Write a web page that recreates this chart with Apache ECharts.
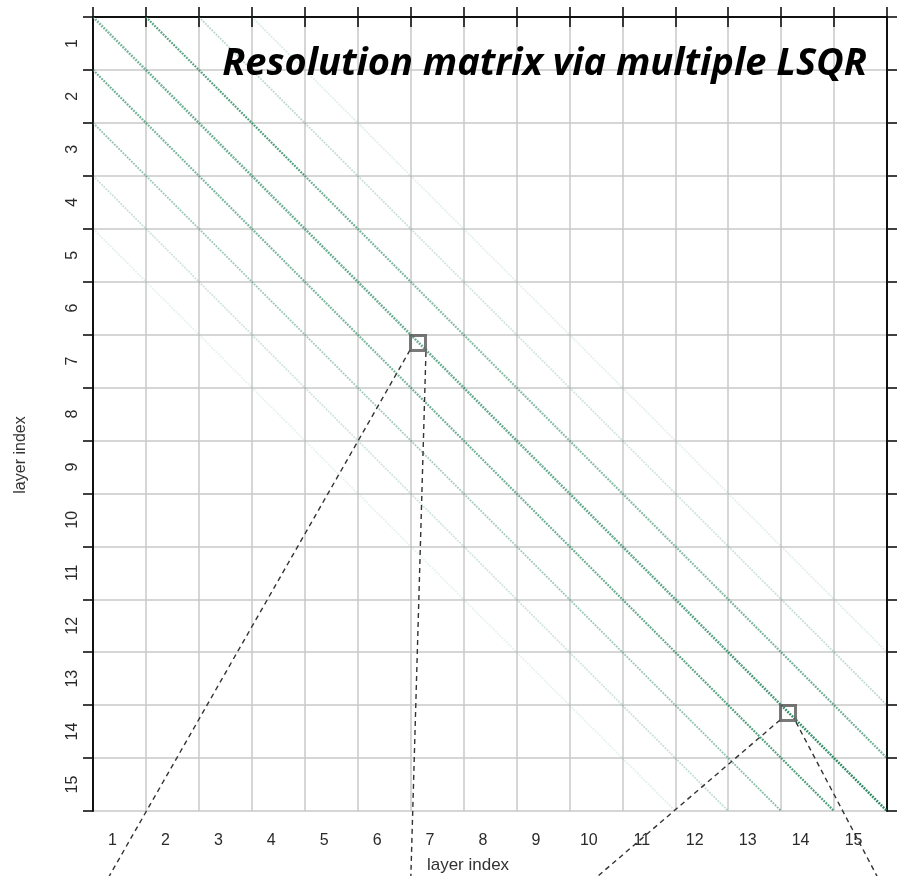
<!DOCTYPE html>
<html><head><meta charset="utf-8">
<script src="https://cdn.jsdelivr.net/npm/echarts@6/dist/echarts.min.js"></script>
<style>html,body{margin:0;padding:0;background:#fff}#c{width:907px;height:876px}</style>
</head><body><div id="c"></div>
<script>
// ---- data ----
const layers = ['1','2','3','4','5','6','7','8','9','10','11','12','13','14','15'];
const axisTitleX = 'layer index';
const axisTitleY = 'layer index';
const chartTitle = 'Resolution matrix via multiple LSQR';
// band offset = column layer - row layer
const bandOffsets = [0, 1, 2, 3, -1, -2, -3, -4];
// strength of each band, one value per layer segment along the band
const bandStrengths = [
  [0.6,0.65,0.65,0.65,0.68,0.68,0.68,0.7,0.68,0.7,0.72,0.75,0.82,0.9,0.95],
  [0.75,0.78,0.8,0.65,0.6,0.55,0.55,0.55,0.55,0.55,0.55,0.6,0.65,0.65],
  [0.32,0.3,0.28,0.25,0.22,0.22,0.22,0.22,0.22,0.22,0.24,0.27,0.3],
  [0.16,0.14,0.14,0.12,0.12,0.12,0.12,0.12,0.12,0.12,0.14,0.14],
  [0.65,0.6,0.6,0.6,0.6,0.6,0.65,0.65,0.65,0.68,0.7,0.75,0.78,0.8],
  [0.5,0.45,0.45,0.45,0.42,0.42,0.42,0.42,0.45,0.45,0.47,0.5,0.55],
  [0.25,0.22,0.22,0.22,0.22,0.22,0.22,0.22,0.22,0.22,0.25,0.28],
  [0.13,0.11,0.11,0.11,0.11,0.11,0.11,0.11,0.11,0.11,0.13]
];
const zoomBoxes = [[6.14,6.16],[13.13,13.15]];
const calloutStarts = [[5.99,6.29],[6.29,6.33],[12.98,13.28],[13.28,13.32]];
const calloutEnds   = [[0.21,16.4],[6.0,16.4],[9.34,16.4],[14.9,16.4]];

// ---- build ----
const bandLines = [];
bandOffsets.forEach((k, bi) => {
  const n = layers.length;
  const start = Math.max(0, k);
  const end = Math.min(n, n + k);
  for (let c = start, s = 0; c < end; c++, s++) {
    const a = bandStrengths[bi][s] != null ? bandStrengths[bi][s] : 0.1;
    bandLines.push({
      coords: [[c, c - k], [c + 1, c + 1 - k]],
      lineStyle: { opacity: a, width: k === 0 ? 2.6 : (Math.abs(k) === 1 ? 2.2 : 1.8) }
    });
  }
});

const tickStyle = { show: true, inside: false, length: 10, lineStyle: { color: '#111', width: 1.6 } };
const labelFont = { fontFamily: 'Liberation Sans, Arial, sans-serif', fontSize: 16, color: '#2a2a2a' };

const series = [
  {
    type: 'lines', coordinateSystem: 'cartesian2d', xAxisIndex: 2, yAxisIndex: 2,
    polyline: false, silent: true, z: 3,
    lineStyle: { color: '#22845a', type: [1.8, 1.2], cap: 'butt' },
    data: bandLines
  },
  {
    type: 'scatter', xAxisIndex: 2, yAxisIndex: 2, z: 6, silent: true,
    symbol: 'rect', symbolSize: 15,
    itemStyle: { color: 'rgba(255,255,255,0)', borderColor: '#585858', borderWidth: 3 },
    data: zoomBoxes
  }
];
calloutStarts.forEach((s, i) => {
  series.push({
    type: 'line', xAxisIndex: 2, yAxisIndex: 2, z: 5, clip: false, silent: true,
    showSymbol: false, symbol: 'none',
    lineStyle: { color: '#333', width: 1.4, type: [5, 4] },
    data: [s, calloutEnds[i]]
  });
});

const chart = echarts.init(document.getElementById('c'), null, { renderer: 'canvas' });
chart.setOption({
  animation: false,
  backgroundColor: '#ffffff',
  title: {
    text: chartTitle, right: 35, top: 40,
    textStyle: { fontFamily: 'Open Sans, Lato, sans-serif', fontStyle: 'italic', fontWeight: 'bold', fontSize: 38, color: '#000' }
  },
  grid: { left: 93, top: 17, width: 794, height: 794, containLabel: false, outerBoundsMode: 'none' },
  xAxis: [
    {
      type: 'category', data: layers, position: 'bottom', boundaryGap: true,
      axisLine: { show: true, lineStyle: { color: '#111', width: 2 } },
      axisTick: Object.assign({ interval: 0 }, tickStyle),
      axisLabel: Object.assign({ interval: 0, margin: 22, padding: [0, 14, 0, 0] }, labelFont),
      splitLine: { show: true, interval: 0, lineStyle: { color: '#c9c9c9', width: 1.5 } },
      name: axisTitleX, nameLocation: 'middle', nameGap: 46,
      nameTextStyle: { fontFamily: 'Liberation Sans, Arial, sans-serif', fontSize: 17, color: '#333', padding: [0, 44, 0, 0] }
    },
    {
      type: 'category', data: layers, position: 'top', boundaryGap: true,
      axisLine: { show: true, lineStyle: { color: '#111', width: 2 } },
      axisTick: Object.assign({ interval: 0 }, tickStyle),
      axisLabel: { show: false }, splitLine: { show: false }
    },
    { type: 'value', min: 0, max: 15, interval: 1, show: false, splitLine: { show: false } }
  ],
  yAxis: [
    {
      type: 'category', data: layers, inverse: true, position: 'left', boundaryGap: true,
      axisLine: { show: true, lineStyle: { color: '#111', width: 2 } },
      axisTick: Object.assign({ interval: 0 }, tickStyle),
      axisLabel: Object.assign({ interval: 0, rotate: 90, margin: 12 }, labelFont),
      splitLine: { show: true, interval: 0, lineStyle: { color: '#c9c9c9', width: 1.5 } },
      name: axisTitleY, nameLocation: 'middle', nameGap: 64, nameRotate: 90,
      nameTextStyle: { fontFamily: 'Liberation Sans, Arial, sans-serif', fontSize: 16, color: '#333', padding: [0, 82, 0, 0] }
    },
    {
      type: 'category', data: layers, inverse: true, position: 'right', boundaryGap: true,
      axisLine: { show: true, lineStyle: { color: '#111', width: 2 } },
      axisTick: Object.assign({ interval: 0 }, tickStyle),
      axisLabel: { show: false }, splitLine: { show: false }
    },
    { type: 'value', min: 0, max: 15, interval: 1, inverse: true, show: false, splitLine: { show: false } }
  ],
  series: series
});
</script></body></html>
